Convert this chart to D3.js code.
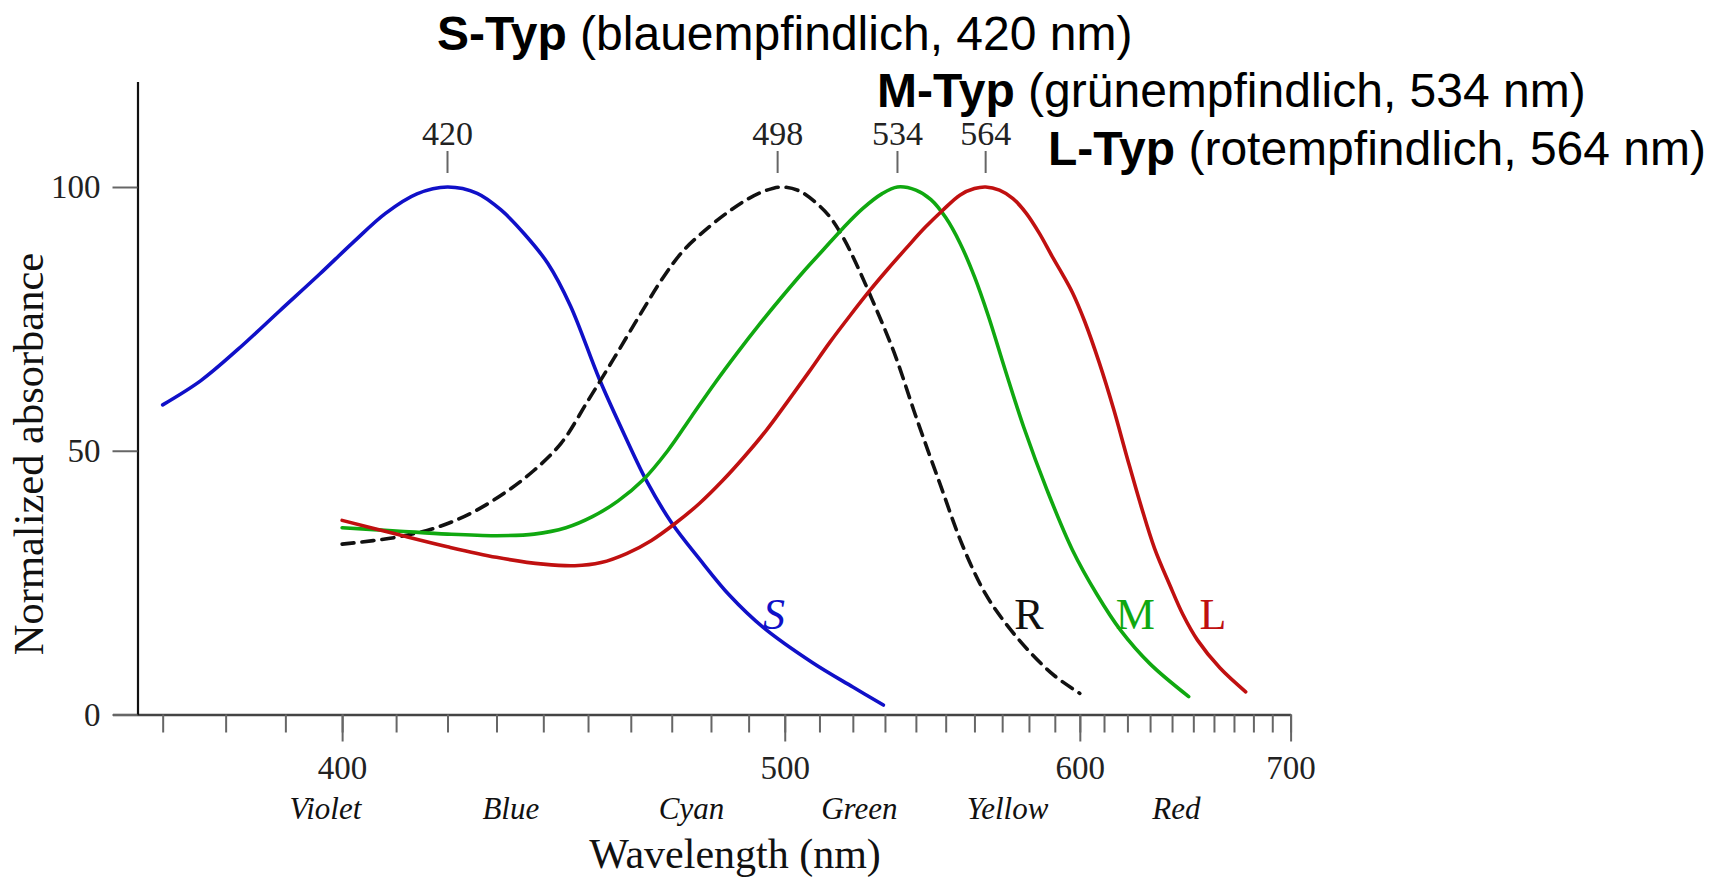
<!DOCTYPE html>
<html>
<head>
<meta charset="utf-8">
<script src="https://cdn.jsdelivr.net/npm/d3@7"></script>
<style>
  body { margin: 0; background: #fff; }
  svg { display: block; }
  .serif { font-family: "Liberation Serif", "Times New Roman", serif; }
  .sans { font-family: "Liberation Sans", Arial, sans-serif; }
</style>
</head>
<body>
<svg width="1725" height="877"></svg>
<script>
// absorbance curves, [wavelength nm, normalized absorbance]
var sCone = [[370, 58.7], [376, 63.3], [382, 69.2], [389, 76.5], [396, 83.5], [402, 89.5],
  [408, 95], [414, 98.7], [420, 100], [426, 98.8], [431, 95.6], [436, 91], [441, 85.5],
  [446, 77.5], [452.6, 63.6], [458.5, 53], [464, 44], [470, 36.3], [477, 29.5], [485, 22.5],
  [494, 16.5], [508, 9.8], [520, 5.2], [529.5, 1.8]];
var rod = [[400, 32.3], [410, 33.6], [418, 35.5], [425, 38.3], [432, 42.2], [438, 46.3],
  [444, 51.5], [450, 59.5], [456, 67.5], [462, 75.5], [468, 83], [473, 88], [478, 91.5],
  [484, 95], [490, 97.8], [495, 99.4], [499, 100], [504, 99.3], [509, 97], [513, 94.4],
  [517, 90.5], [521, 85.5], [526, 78.6], [533, 68.5], [540, 56.5], [548, 43.8], [556, 31.8],
  [564, 22.8], [572, 16.8], [581, 11.5], [590, 7.3], [600, 4]];
var mCone = [[400, 35.4], [410, 34.8], [420, 34.2], [430, 33.9], [438, 34.2], [445, 35.4],
  [451, 37.5], [457, 40.5], [463, 44.5], [469, 50], [475, 56.5], [481, 62.8], [487, 68.6],
  [493, 74], [499, 79], [505, 83.7], [511, 88], [517, 92.2], [523, 95.9], [529, 98.7],
  [534, 100], [540, 99.4], [545, 97.6], [550, 94.2], [555, 89.3], [560, 83], [565, 75.5],
  [571, 65.5], [578, 54.5], [587, 42.5], [597, 31.2], [607, 22.8], [617, 16], [630, 9.6],
  [647.8, 3.4]];
var lCone = [[400, 36.8], [410, 34.2], [420, 31.8], [430, 29.8], [440, 28.5], [447, 28.2],
  [453, 28.8], [459, 30.5], [465, 33], [471, 36.3], [477, 40], [483, 44.3], [489, 49],
  [495, 54], [501, 59.5], [507, 65], [513, 70.5], [519, 75.5], [525, 80.2], [531, 84.5],
  [537, 88.5], [543, 92.3], [549, 95.6], [555, 98.5], [560, 99.7], [564, 100], [569, 99.4],
  [574, 97.8], [579, 95], [584, 91.2], [589, 86.8], [593, 83.5], [597, 80], [602, 74.5],
  [608, 66.7], [614, 58], [620, 48.5], [626, 39.5], [632, 31.5], [639, 24.5], [645, 19],
  [652, 14.1], [663, 8.8], [676, 4.3]];

var curveNames = ["S", "R", "M", "L"];
var curveColors = ["#1010c8", "#111111", "#10a810", "#c01010"];
var curveLabelAt = [497, 580, 623.5, 659.5];   // wavelength of the letter
var curveLabelVal = 16.2;

var peaks = [420, 498, 534, 564];
var minorTicks = d3.range(370, 701, 10);
var majorTicks = [400, 500, 600, 700];
var yTicks = [0, 50, 100];
var bands = ["Violet", "Blue", "Cyan", "Green", "Yellow", "Red"];
var bandAt = [397, 433, 475, 522, 572, 642];

var titleBold = ["S-Typ", "M-Typ", "L-Typ"];
var titleRest = [" (blauempfindlich, 420 nm)", " (grünempfindlich, 534 nm)", " (rotempfindlich, 564 nm)"];

var svg = d3.select("svg");

// wavelength axis is linear in wavenumber (1/lambda)
var x = d3.scalePow().exponent(-1)
  .domain([362.4, 700])
  .range([112.5, 1290.6]);

var y = d3.scaleLinear()
  .domain([0, 120])
  .range([714.5, 81.5]);

// x axis: minor ticks, then major ticks with labels
var xMinor = svg.append("g")
  .attr("transform", "translate(0," + y(0) + ")")
  .call(d3.axisBottom(x).tickValues(minorTicks).tickSize(18).tickSizeOuter(0).tickFormat(""));
xMinor.select(".domain").attr("stroke", "#444").attr("stroke-width", 2.5);
xMinor.selectAll(".tick line").attr("stroke", "#666").attr("stroke-width", 2);

var xMajor = svg.append("g")
  .attr("transform", "translate(0," + y(0) + ")")
  .call(d3.axisBottom(x).tickValues(majorTicks).tickSize(27).tickSizeOuter(0).tickPadding(14));
xMajor.select(".domain").remove();
xMajor.selectAll(".tick line").attr("stroke", "#666").attr("stroke-width", 2);
xMajor.selectAll(".tick text")
  .attr("font-size", 33).attr("fill", "#222").attr("font-family", "Liberation Serif");

// y axis
var yAxis = svg.append("g")
  .attr("transform", "translate(137.5,0)")
  .call(d3.axisLeft(y).tickValues(yTicks).tickSize(25).tickSizeOuter(0).tickPadding(12));
yAxis.select(".domain").attr("stroke", "#111").attr("stroke-width", 2.2);
yAxis.selectAll(".tick line").attr("stroke", "#666").attr("stroke-width", 2);
yAxis.selectAll(".tick text")
  .attr("font-size", 33).attr("fill", "#222").attr("font-family", "Liberation Serif");

// colour band names
svg.append("g").selectAll("text")
  .data(bands)
  .enter().append("text")
    .attr("class", "serif")
    .attr("x", function(d, i) { return x(bandAt[i]); })
    .attr("y", 819)
    .attr("text-anchor", "middle")
    .attr("font-size", 31)
    .attr("font-style", "italic")
    .attr("fill", "#111")
    .text(function(d) { return d; });

svg.append("text")
  .attr("class", "serif")
  .attr("x", 735).attr("y", 868)
  .attr("text-anchor", "middle")
  .attr("font-size", 42)
  .attr("fill", "#111")
  .text("Wavelength (nm)");

svg.append("text")
  .attr("class", "serif")
  .attr("transform", "translate(43,454) rotate(-90)")
  .attr("text-anchor", "middle")
  .attr("font-size", 42.5)
  .attr("fill", "#111")
  .text("Normalized absorbance");

// peak markers
var peak = svg.append("g").selectAll("g")
  .data(peaks)
  .enter().append("g")
    .attr("transform", function(d) { return "translate(" + x(d) + ",0)"; });
peak.append("line")
  .attr("y1", 151).attr("y2", 173)
  .attr("stroke", "#666").attr("stroke-width", 2);
peak.append("text")
  .attr("class", "serif")
  .attr("y", 145)
  .attr("text-anchor", "middle")
  .attr("font-size", 34)
  .attr("fill", "#222")
  .text(function(d) { return d; });

// curves
var line = d3.line()
  .x(function(d) { return x(d[0]); })
  .y(function(d) { return y(d[1]); })
  .curve(d3.curveCatmullRom.alpha(0.5));

var series = [sCone, rod, mCone, lCone];
svg.append("g").selectAll("path")
  .data(series)
  .enter().append("path")
    .attr("d", line)
    .attr("fill", "none")
    .attr("stroke", function(d, i) { return curveColors[i]; })
    .attr("stroke-width", 3.6)
    .attr("stroke-linecap", "round")
    .attr("stroke-dasharray", function(d, i) { return i == 1 ? "12,8" : null; });

svg.append("g").selectAll("text")
  .data(curveNames)
  .enter().append("text")
    .attr("class", "serif")
    .attr("x", function(d, i) { return x(curveLabelAt[i]); })
    .attr("y", y(curveLabelVal))
    .attr("text-anchor", "middle")
    .attr("font-size", 44)
    .attr("font-style", function(d) { return d == "S" ? "italic" : "normal"; })
    .attr("fill", function(d, i) { return curveColors[i]; })
    .text(function(d) { return d; });

// titles
var titlePos = [[437, 50], [877, 107], [1048, 165]];
var title = svg.append("g").selectAll("text")
  .data(titleBold)
  .enter().append("text")
    .attr("class", "sans")
    .attr("x", function(d, i) { return titlePos[i][0]; })
    .attr("y", function(d, i) { return titlePos[i][1]; })
    .attr("font-size", 48)
    .attr("fill", "#000");
title.append("tspan").attr("font-weight", "bold").text(function(d) { return d; });
title.append("tspan").text(function(d, i) { return titleRest[i]; });
</script>
</body>
</html>
